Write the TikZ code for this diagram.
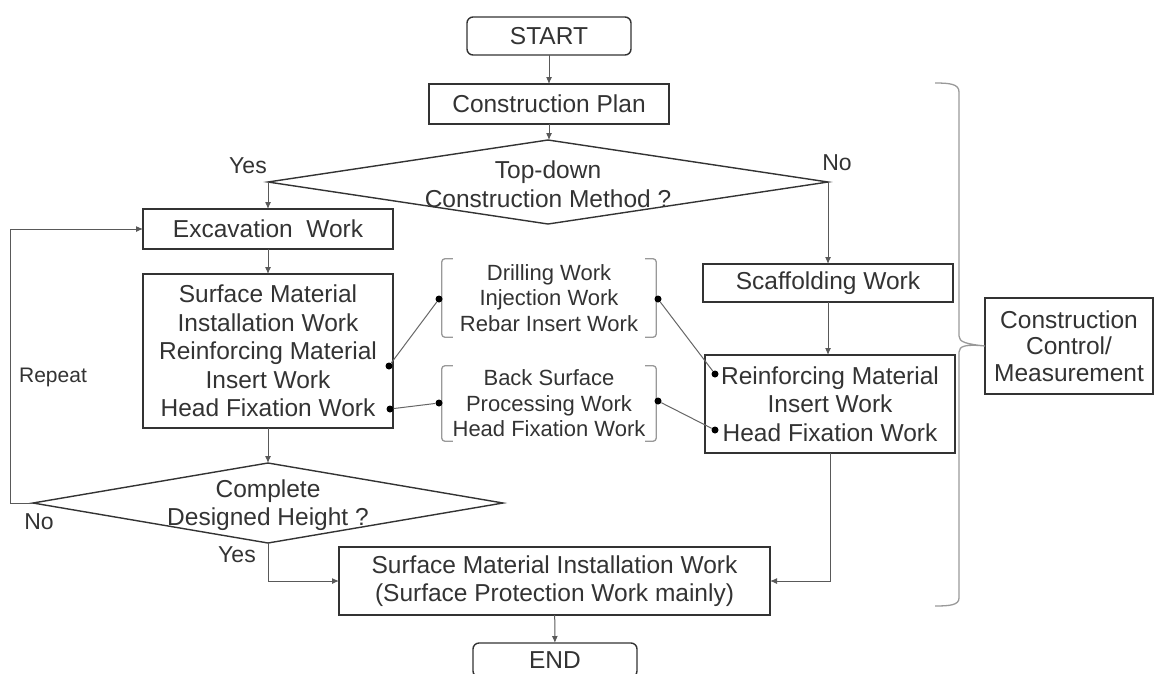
\documentclass[tikz,border=0pt]{standalone}
\usepackage{fontspec}
\setmainfont{Liberation Sans}
\usetikzlibrary{shapes.geometric,arrows.meta}

\begin{document}
\begin{tikzpicture}[x=1pt,y=-1pt,
  every node/.style={text=black!80},
  mainfont/.style={font=\fontsize{24.5}{28.5}\selectfont},
  term/.style={draw=black!80, line width=1.4pt, rounded corners=6pt,
    minimum width=164pt, minimum height=38pt, inner sep=0pt, outer sep=0pt, mainfont},
  procbox/.style={draw=black!80, line width=1.4pt, inner sep=0pt, outer sep=0pt,
    align=center, mainfont},
  decision/.style={draw=black!80, line width=1.4pt, diamond, inner sep=0pt, outer sep=0pt},
  flow/.style={draw=black!65, line width=1pt, -{Latex[length=7pt,width=6pt]}},
  linkline/.style={draw=black!60, line width=1pt},
  dotmark/.style={circle, fill=black, inner sep=0pt, minimum size=7pt},
  bracketline/.style={draw=black!40, line width=1.3pt, rounded corners=3pt},
  subtext/.style={font=\fontsize{22}{25.5}\selectfont, align=center, inner sep=0pt,
    minimum width=214pt},
  answer/.style={font=\fontsize{23}{26}\selectfont, inner sep=0pt},
]
\useasboundingbox (0,0) rectangle (1156,673);
\clip (0,0) rectangle (1156,673);

% main column
\node[term] (start) at (549,36) {START};
\node[procbox, minimum width=240pt, minimum height=40pt] (plan) at (549,104) {Construction Plan};
\node[decision, minimum width=560pt, minimum height=84pt,
  label={[mainfont, align=center, yshift=-2pt]center:{Top-down\\Construction Method ?}}]
  (topdown) at (548,182) {};

% top-down branch
\node[procbox, minimum width=250pt, minimum height=40pt] (excav) at (268,229) {Excavation\ \ Work};
\node[procbox, minimum width=250pt, minimum height=154pt] (leftwork) at (268,351)
  {Surface Material\\Installation Work\\Reinforcing Material\\Insert Work\\Head Fixation Work};
\node[decision, minimum width=470pt, minimum height=80pt,
  label={[mainfont, align=center, yshift=-2pt]center:{Complete\\Designed Height ?}}]
  (complete) at (268,503) {};

% conventional branch
\node[procbox, minimum width=250pt, minimum height=38pt] (scaff) at (828,283) {Scaffolding Work};
\node[procbox, minimum width=250pt, minimum height=98pt] (reinf) at (830,404)
  {Reinforcing Material\\Insert Work\\Head Fixation Work};

% final steps
\node[procbox, minimum width=431pt, minimum height=68pt] (final) at (554.5,581)
  {Surface Material Installation Work\\(Surface Protection Work mainly)};
\node[term, minimum height=34pt] (endnode) at (555,660) {END};

% control box
\node[procbox, minimum width=168pt, minimum height=96pt,
  font=\fontsize{24.5}{26.5}\selectfont] (ctrl) at (1069,346)
  {Construction\\Control/\\Measurement};

% sub-work groups in brackets
\node[subtext, minimum height=78pt] (drill) at (549,298)
  {Drilling Work\\Injection Work\\Rebar Insert Work};
\node[subtext, minimum height=75pt] (back) at (549,403.5)
  {Back Surface\\Processing Work\\Head Fixation Work};
\foreach \g in {drill,back}{
  \draw[bracketline] ([xshift=11pt]\g.north west) -- (\g.north west) -- (\g.south west) -- ([xshift=11pt]\g.south west);
  \draw[bracketline] ([xshift=-11pt]\g.north east) -- (\g.north east) -- (\g.south east) -- ([xshift=-11pt]\g.south east);
}

% link dots
\node[dotmark] (dL1) at (389,366) {};
\node[dotmark] (dL2) at (390,409) {};
\node[dotmark] (dB1l) at (439,299) {};
\node[dotmark] (dB1r) at (658,299) {};
\node[dotmark] (dB2l) at (439,403) {};
\node[dotmark] (dB2r) at (658,401) {};
\node[dotmark] (dR1) at (715,374) {};
\node[dotmark] (dR2) at (715,430) {};
\draw[linkline] (dL1) -- (dB1l);
\draw[linkline] (dL2) -- (dB2l);
\draw[linkline] (dB1r) -- (dR1);
\draw[linkline] (dB2r) -- (dR2);

% flow connectors
\coordinate (loopx) at (10,0);
\draw[flow] (start) -- (plan);
\draw[flow] (plan) -- (plan.south |- topdown.north);
\draw[flow] (topdown.west) -- (topdown.west |- excav.north);
\draw[flow] (topdown.east) -- (topdown.east |- scaff.north);
\draw[flow] (excav) -- (leftwork);
\draw[flow] (scaff.south) -- (scaff.south |- reinf.north);
\draw[flow] (leftwork) -- (complete.north);
\draw[flow] (complete.west) -- (complete.west -| loopx) |- (excav.west);
\draw[flow] (complete.south) |- (final.west);
\draw[flow] (reinf.south) |- (final.east);
\draw[flow] (final) -- (endnode);

% brace gathering the whole process
\draw[draw=black!40, line width=1.3pt]
  (935,83) .. controls (950,83) and (959,84) .. (959,92) -- (959,336)
  .. controls (959,342) and (966,344) .. (ctrl.west)
  .. controls (966,344) and (959,346) .. (959,352) -- (959,598)
  .. controls (959,605) and (950,606) .. (935,606);

% branch labels
\node[answer] (yes1) at (248,166) {Yes};
\node[answer] (no1) at (837,163) {No};
\node[answer] (no2) at (39,522) {No};
\node[answer] (yes2) at (237,555) {Yes};
\node[font=\fontsize{21}{24}\selectfont, inner sep=0pt] (repeat) at (53,377) {Repeat};
\end{tikzpicture}
\end{document}
